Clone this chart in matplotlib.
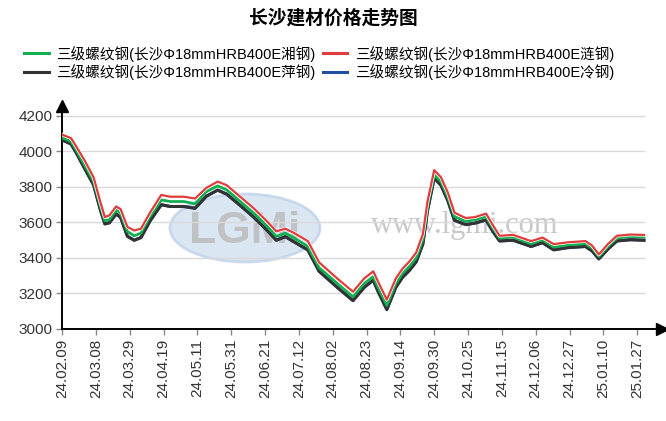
import matplotlib
matplotlib.use("Agg")
import matplotlib.pyplot as plt
import matplotlib.patheffects as pe
from matplotlib.patches import Ellipse

plt.rcParams['font.family'] = ['Liberation Sans', 'Noto Sans CJK SC', 'DejaVu Sans']

# trading-day index of each sampled point (tick label every 15 days)
days = [0, 4, 6, 10, 14, 17, 19, 21, 24, 26, 29, 32, 35, 39, 44, 48, 54, 59, 64, 69,
        73, 79, 85, 91, 95, 99, 103, 109, 114, 122, 129, 134, 138, 140, 144, 148, 151,
        154, 157, 160, 162, 165, 168, 171, 174, 179, 183, 188, 191, 194, 200, 208, 213,
        218, 224, 232, 235, 238, 242, 246, 252, 258]

xiang = [4078, 4056, 4015, 3924, 3831, 3690, 3610, 3615, 3671, 3652, 3549, 3525, 3540,
         3634, 3727, 3718, 3718, 3705, 3774, 3806, 3784, 3718, 3652, 3578, 3521, 3540,
         3512, 3465, 3345, 3257, 3181, 3257, 3295, 3238, 3133, 3257, 3314, 3352, 3400,
         3505, 3690, 3868, 3831, 3746, 3634, 3606, 3615, 3634, 3568, 3512, 3518, 3480,
         3503, 3461, 3474, 3480, 3456, 3409, 3465, 3512, 3521, 3518]

lian = [4095, 4075, 4035, 3950, 3855, 3715, 3630, 3640, 3690, 3675, 3575, 3555, 3565,
        3655, 3755, 3745, 3745, 3735, 3795, 3830, 3810, 3745, 3680, 3605, 3550, 3565,
        3540, 3495, 3375, 3285, 3210, 3285, 3325, 3270, 3165, 3285, 3340, 3380, 3430,
        3535, 3715, 3895, 3855, 3770, 3655, 3625, 3630, 3650, 3585, 3525, 3530, 3495,
        3515, 3478, 3488, 3495, 3470, 3420, 3478, 3525, 3532, 3530]

ping = [4065, 4042, 4000, 3905, 3812, 3672, 3592, 3598, 3648, 3628, 3522, 3500, 3515,
        3608, 3700, 3690, 3690, 3680, 3748, 3782, 3760, 3696, 3630, 3555, 3500, 3520,
        3490, 3445, 3325, 3235, 3160, 3235, 3275, 3215, 3110, 3235, 3292, 3330, 3378,
        3480, 3665, 3850, 3810, 3725, 3612, 3588, 3596, 3614, 3550, 3496, 3500, 3465,
        3486, 3446, 3458, 3465, 3440, 3395, 3450, 3496, 3503, 3500]

# 冷钢 sits under the 萍钢 line in the picture
leng = [4065, 4042, 4000, 3905, 3812, 3672, 3592, 3598, 3648, 3628, 3522, 3500, 3515,
        3608, 3700, 3690, 3690, 3680, 3748, 3782, 3760, 3696, 3630, 3555, 3500, 3520,
        3490, 3445, 3325, 3235, 3160, 3235, 3275, 3215, 3110, 3235, 3292, 3330, 3378,
        3480, 3665, 3850, 3810, 3725, 3612, 3588, 3596, 3614, 3550, 3496, 3500, 3465,
        3486, 3446, 3458, 3465, 3440, 3395, 3450, 3496, 3503, 3500]

tick_labels = ['24.02.09', '24.03.08', '24.03.29', '24.04.19', '24.05.11', '24.05.31',
               '24.06.21', '24.07.12', '24.08.02', '24.08.23', '24.09.14', '24.09.30',
               '24.10.25', '24.11.15', '24.12.06', '24.12.27', '25.01.10', '25.01.27']
tick_pos = [i * 15 for i in range(len(tick_labels))]
yticks = [3000, 3200, 3400, 3600, 3800, 4000, 4200]

names = ['三级螺纹钢(长沙Φ18mmHRB400E湘钢)', '三级螺纹钢(长沙Φ18mmHRB400E萍钢)',
         '三级螺纹钢(长沙Φ18mmHRB400E涟钢)', '三级螺纹钢(长沙Φ18mmHRB400E冷钢)']

fig = plt.figure(figsize=(6.66, 4.21), dpi=100)
ax = fig.add_axes([62 / 666, 1 - 329 / 421, 600 / 666, 223 / 421])

# watermark
ax.add_patch(Ellipse((245 / 666, 1 - 228 / 421), 150 / 666, 68 / 421,
                     transform=fig.transFigure, facecolor='#d3e0f0', edgecolor='#c0d2ea',
                     lw=2, alpha=0.8, zorder=0, clip_on=False))
ax.text(245 / 666, 1 - 232 / 421, 'LGMi', transform=fig.transFigure, ha='center', va='center',
        fontsize=32, fontweight='bold', color='#b8b8b8', alpha=0.8, zorder=0.5)
ax.text(465 / 666, 1 - 225 / 421, 'www.lgmi.com', transform=fig.transFigure, ha='center',
        va='center', fontsize=22, family='Liberation Serif', color='#c8c8c8', zorder=0.5)

ax.hlines(yticks, 0, 258.5, color='#d9d9d9', lw=1, zorder=1)

l_leng, = ax.plot(days, leng, color='#1f4ea3', lw=2.2, zorder=2, solid_joinstyle='round')
l_ping, = ax.plot(days, ping, color='#333333', lw=2.2, zorder=3, solid_joinstyle='round')
l_xiang, = ax.plot(days, xiang, color='#10b050', lw=2.0, zorder=4, solid_joinstyle='round')
l_lian, = ax.plot(days, lian, color='#e03c3c', lw=1.6, zorder=5, solid_joinstyle='round',
                  path_effects=[pe.Stroke(linewidth=2.6, foreground='white'), pe.Normal()])

ax.set_xlim(0, 266)
ax.set_ylim(3000, 4256)
ax.set_xticks(tick_pos)
ax.set_xticklabels(tick_labels, rotation=90)
ax.set_yticks(yticks)
ax.tick_params(axis='both', direction='out', length=4, width=1, color='#888888',
               labelsize=11, labelcolor='#333333', pad=3)
for s in ['top', 'right']:
    ax.spines[s].set_visible(False)
for s in ['left', 'bottom']:
    ax.spines[s].set_linewidth(1.4)
    ax.spines[s].set_color('black')
ax.plot(1, 0, '>', color='black', ms=9, transform=ax.transAxes, clip_on=False)
ax.plot(0, 1, '^', color='black', ms=9, transform=ax.transAxes, clip_on=False)
ax.set_facecolor('none')

fig.text(0.5, 1 - 18 / 421, '长沙建材价格走势图', ha='center', va='center',
         fontsize=13.5, fontweight='bold', family=['Noto Sans CJK SC'])

leg = fig.legend([l_xiang, l_ping, l_lian, l_leng], names, ncol=2, loc='center',
                 bbox_to_anchor=(319 / 666, 1 - 63 / 421), frameon=False, fontsize=10.5,
                 handlelength=1.7, handletextpad=0.5, columnspacing=0.5, labelspacing=0.2,
                 borderaxespad=0)
for h in leg.legend_handles:
    h.set_path_effects([])
    h.set_linewidth(2.2)

fig.savefig('out.png', dpi=100)
